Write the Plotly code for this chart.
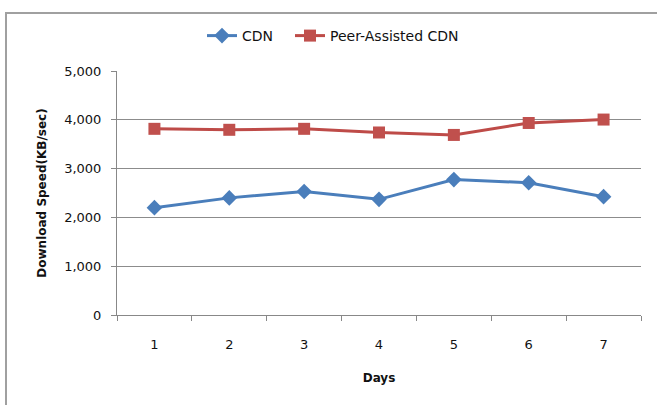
import plotly.graph_objects as go

days = ["1", "2", "3", "4", "5", "6", "7"]
cdn = [2200, 2400, 2530, 2370, 2775, 2710, 2425]
peer = [3815, 3795, 3815, 3740, 3690, 3935, 4005]
yticks = [0, 1000, 2000, 3000, 4000, 5000]
yticklabels = ["0", "1,000", "2,000", "3,000", "4,000", "5,000"]

FONT = "DejaVu Sans"

fig = go.Figure()
fig.add_trace(go.Scatter(
    x=days, y=cdn, name="CDN", mode="lines+markers",
    line=dict(color="#4A7EBB", width=3),
    marker=dict(symbol="diamond", size=12, color="#4A7EBB"),
    legend="legend", showlegend=True,
))
fig.add_trace(go.Scatter(
    x=days, y=peer, name="Peer-Assisted CDN", mode="lines+markers",
    line=dict(color="#BE4B48", width=3),
    marker=dict(symbol="square", size=12, color="#C0504D"),
    legend="legend2", showlegend=True,
))

leg_common = dict(orientation="h", xanchor="left", y=1 + 35 / 244, yanchor="middle",
                  font=dict(size=14), bgcolor="rgba(0,0,0,0)")

fig.update_layout(
    width=657, height=405,
    margin=dict(l=117, r=16, t=71, b=90, autoexpand=False),
    paper_bgcolor="white", plot_bgcolor="white",
    font=dict(family=FONT, size=13, color="#111"),
    showlegend=True,
    legend=dict(x=(202 - 117) / 524, **leg_common),
    legend2=dict(x=(290 - 117) / 524, **leg_common),
    xaxis=dict(
        type="category", range=[-0.5, 6.5], automargin=False,
        showline=True, linecolor="#888", linewidth=1,
        ticks="outside", tickson="boundaries", ticklen=5, tickcolor="#888",
        ticklabelstandoff=17, showgrid=False,
        title=dict(text="<b>Days</b>", font=dict(size=12), standoff=23),
    ),
    yaxis=dict(
        range=[0, 5000], tickvals=yticks, ticktext=yticklabels, automargin=False,
        showline=True, linecolor="#888", linewidth=1,
        ticks="outside", ticklen=5, tickcolor="#888",
        ticklabelstandoff=7,
        showgrid=True, gridcolor="#8c8c8c", gridwidth=1,
        zeroline=False,
        title=dict(text="<b>Download Speed(KB/sec)</b>", font=dict(size=12), standoff=14),
    ),
    shapes=[dict(type="rect", xref="paper", yref="paper",
                 x0=-111 / 524, x1=1.2, y0=-0.5, y1=1 + 58 / 244,
                 line=dict(color="#a0a0a0", width=2), fillcolor="rgba(0,0,0,0)")],
)

fig.write_html("out.html", config={"displayModeBar": False},
               post_script="document.body.style.margin='0';")
